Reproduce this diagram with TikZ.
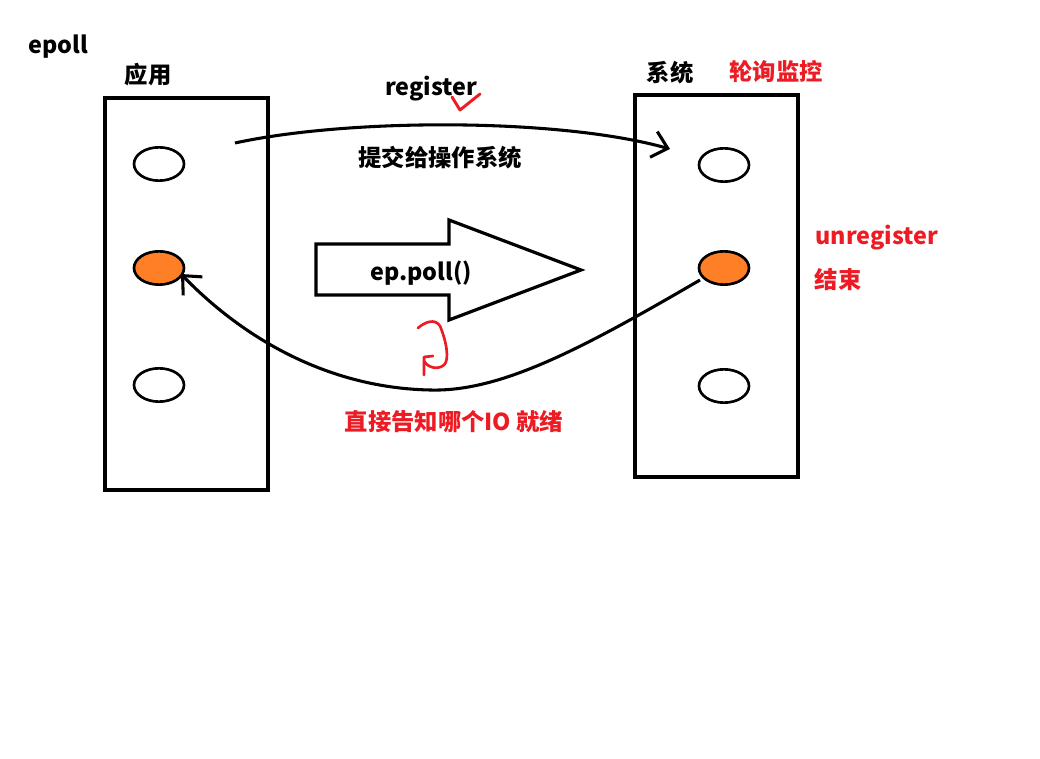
\documentclass[tikz,border=0pt]{standalone}
\usepackage{fontspec}
\setmainfont{Noto Sans CJK SC}
\usetikzlibrary{arrows.meta,shapes.geometric}
\definecolor{pred}{HTML}{ED1C24}
\definecolor{porange}{HTML}{FF7F27}
\begin{document}
\begin{tikzpicture}[x=0.75pt,y=-0.75pt,
  lbl/.style={font=\fontsize{17.5pt}{20pt}\selectfont\bfseries, inner sep=0pt},
  redlbl/.style={lbl, text=pred},
  box/.style={draw, line width=2.4pt, inner sep=0pt},
  io/.style={draw, line width=2pt, ellipse, minimum width=37.5pt, minimum height=25pt, inner sep=0pt},
  hot/.style={io, fill=porange},
  conn/.style={line width=2.3pt, -{Straight Barb[length=11pt,width=20pt,line width=2.3pt]}}]
\useasboundingbox (0,0) rectangle (1040,759);
\fill[white] (0,0) rectangle (1040,759);
\node[lbl] (title) at (58,47) {epoll};
\node[lbl] (app) at (148,75) {应用};
\node[lbl] (sys) at (670,73) {系统};
\node[redlbl] (poll) at (776,72) {轮询监控};
\node[box, minimum width=122.25pt, minimum height=294pt] (L) at (186.5,294) {};
\node[box, minimum width=122.25pt, minimum height=286.5pt] (R) at (716.5,286) {};
\node[io] (l1) at (159,164) {};
\node[hot] (l2) at (159,268) {};
\node[io] (l3) at (159,385) {};
\node[io] (r1) at (724,165) {};
\node[hot] (r2) at (724,268) {};
\node[io] (r3) at (724,386) {};
\node[lbl] (reg) at (431,89) {register};
\node[lbl] (submit) at (440,158) {提交给操作系统};
\node[redlbl] (unreg) at (877,238) {unregister};
\node[redlbl] (fin) at (838,280) {结束};
\node[redlbl] (ready) at (454,422) {直接告知哪个IO 就绪};
\coordinate (s1) at (235,143);
\coordinate (e1) at (670,149);
\draw[conn] (s1) .. controls (350,118) and (560,118) .. (e1);
\draw[line width=2.4pt] (316,244) -- (449,244) -- (449,220) -- (581,270) -- (449,320) -- (449,295) -- (316,295) -- cycle;
\node[lbl] (ep) at (421,273) {ep.poll()};
\coordinate (s2) at (700,280);
\coordinate (m2) at (430,390);
\coordinate (e2) at (181,274);
\draw[conn] (s2) .. controls (580,350) and (500,392) .. (m2) .. controls (330,388) and (245,340) .. (e2);
\draw[pred, line width=2.2pt, line cap=round, line join=round] (452,97) -- (460,110) -- (480,94);
\draw[pred, line width=2pt, line cap=round, line join=round] (418,328) .. controls (425,322) and (435,318) .. (440,326) .. controls (446,340) and (450,360) .. (444,365) .. controls (438,370) and (428,368) .. (424,361);
\draw[pred, line width=2pt, line cap=round, line join=round] (424,375) -- (424,357) -- (433,356);
\end{tikzpicture}
\end{document}
